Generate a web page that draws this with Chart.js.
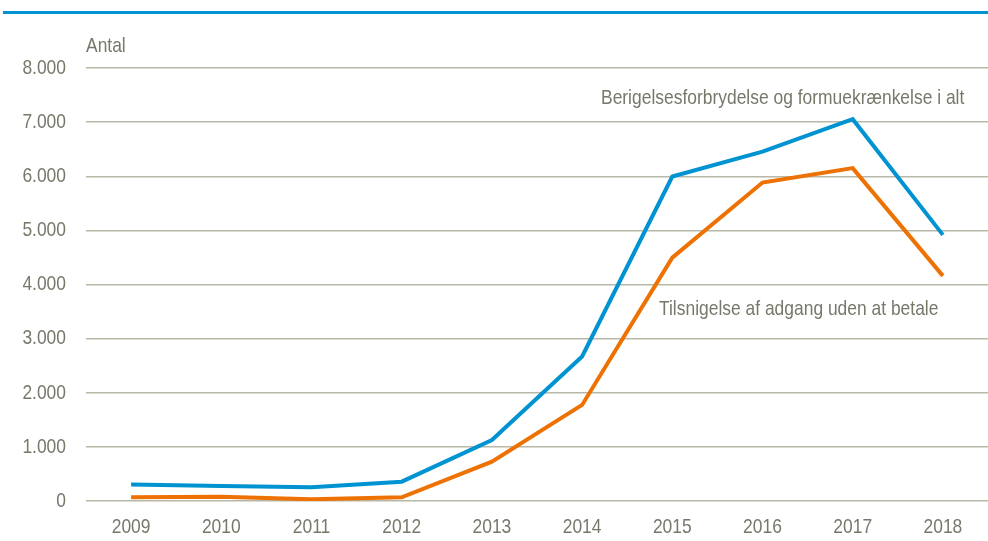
<!DOCTYPE html>
<html>
<head>
<meta charset="utf-8">
<script src="https://cdn.jsdelivr.net/npm/chart.js@4/dist/chart.umd.min.js"></script>
<style>
    html, body { margin: 0; padding: 0; background: #fff; }
    #wrap { position: relative; width: 988px; height: 541px; }
</style>
</head>
<body>
<div id="wrap"><canvas id="chart" width="988" height="541"></canvas></div>
<script>
// Data
const years = ['2009', '2010', '2011', '2012', '2013', '2014', '2015', '2016', '2017', '2018'];
const totalSeries = [305, 277, 253, 357, 1128, 2670, 5995, 6456, 7055, 4917];
const accessSeries = [68, 78, 31, 68, 727, 1775, 4497, 5884, 6150, 4159];
const seriesLabels = ['Berigelsesforbrydelse og formuekrænkelse i alt', 'Tilsnigelse af adgang uden at betale'];
const yTicks = [0, 1000, 2000, 3000, 4000, 5000, 6000, 7000, 8000];

const BLUE = '#0093d1';
const ORANGE = '#ee7203';
const TEXT = '#77776a';
const GRID = '#b8b8a8';
const FONT = '21px "Liberation Sans", Arial, sans-serif';
const SQUEEZE = 0.83; // narrow look of the original font

// draw text condensed horizontally
function narrowText(ctx, text, x, y, align) {
    ctx.save();
    ctx.translate(x, y);
    ctx.scale(SQUEEZE, 1);
    ctx.textAlign = align;
    ctx.fillText(text, 0, 0);
    ctx.restore();
}

// Header rule, axis title, tick labels and in-chart series labels
const decorations = {
    id: 'decorations',
    afterDraw(chart) {
        const ctx = chart.ctx;
        const xs = chart.scales.x;
        const ys = chart.scales.y;
        ctx.save();
        ctx.fillStyle = BLUE;
        ctx.fillRect(3, 11, 985, 3);

        ctx.fillStyle = TEXT;
        ctx.font = FONT;
        ctx.textBaseline = 'middle';

        ys.ticks.forEach(t => {
            narrowText(ctx, t.value.toLocaleString('da-DK'), 66, ys.getPixelForValue(t.value), 'right');
        });
        years.forEach((y, i) => {
            narrowText(ctx, y, xs.getPixelForTick(i), 527, 'center');
        });

        narrowText(ctx, 'Antal', 86, 46, 'left');
        narrowText(ctx, seriesLabels[0], 601, 98, 'left');
        narrowText(ctx, seriesLabels[1], 659, 309, 'left');
        ctx.restore();
    }
};

new Chart(document.getElementById('chart'), {
    type: 'line',
    data: {
        labels: years,
        datasets: [
            {
                label: seriesLabels[0],
                data: totalSeries,
                borderColor: BLUE,
                borderWidth: 4,
                pointRadius: 0,
                tension: 0,
                fill: false
            },
            {
                label: seriesLabels[1],
                data: accessSeries,
                borderColor: ORANGE,
                borderWidth: 4,
                pointRadius: 0,
                tension: 0,
                fill: false
            }
        ]
    },
    options: {
        responsive: false,
        animation: false,
        layout: { padding: { top: 68, right: 0, bottom: 0, left: 0 } },
        plugins: {
            legend: { display: false },
            tooltip: { enabled: false }
        },
        scales: {
            x: {
                offset: true,
                grid: { display: false },
                border: { display: false },
                ticks: { display: false },
                afterFit: s => { s.height = 40; }
            },
            y: {
                min: 0,
                max: 8000,
                afterBuildTicks: s => { s.ticks = yTicks.map(v => ({ value: v })); },
                grid: { color: GRID, lineWidth: 1.5, drawTicks: false },
                border: { display: false },
                ticks: { display: false },
                afterFit: s => { s.width = 86; }
            }
        }
    },
    plugins: [decorations]
});
</script>
</body>
</html>
